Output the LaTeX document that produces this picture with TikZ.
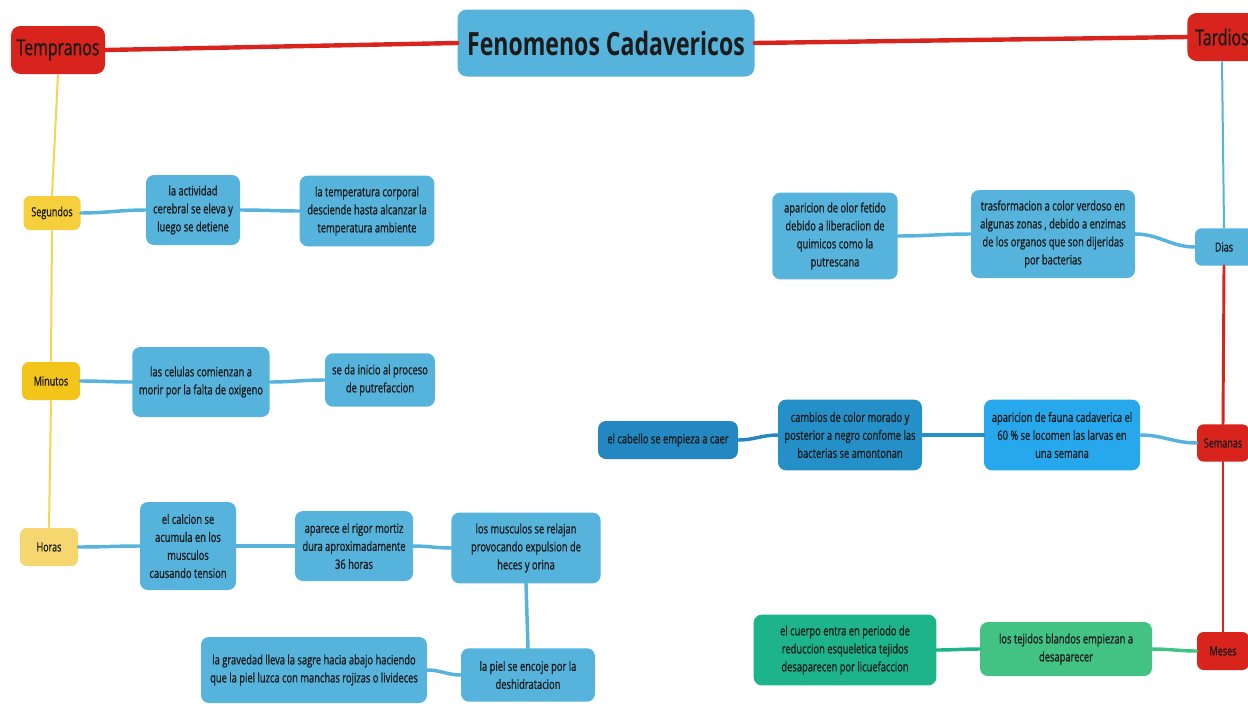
\documentclass[tikz,border=0pt]{standalone}
\usepackage{fontspec}
\setmainfont{Open Sans}[FakeStretch=0.72, UprightFeatures={FakeBold=0.9}]
\definecolor{boxblue}{HTML}{55B3DC}
\definecolor{mapred}{HTML}{D8241D}
\definecolor{ink}{HTML}{1B1B1B}
\definecolor{yelA}{HTML}{F5CF3C}
\definecolor{yelB}{HTML}{F3C41A}
\definecolor{yelC}{HTML}{F6D66E}
\definecolor{yelline}{HTML}{F2D64E}
\definecolor{blueA}{HTML}{27A8EC}
\definecolor{blueB}{HTML}{2590C8}
\definecolor{blueC}{HTML}{2388C2}
\definecolor{greenA}{HTML}{42C283}
\definecolor{greenB}{HTML}{1DB48C}
\tikzset{
  box/.style={fill=boxblue, rounded corners=6pt, align=center, text=ink, inner sep=2pt,
    font=\fontsize{9.75}{13.5}\selectfont},
  head/.style={fill=mapred, rounded corners=7pt, text=ink, font=\fontsize{16.5}{18}\selectfont},
  time/.style={rounded corners=5pt, text=ink, font=\fontsize{9.4}{11}\selectfont},
  link/.style={boxblue, line width=2.6pt, line cap=round},
  trunk/.style={mapred, line width=3.3pt, line cap=round}
}
\begin{document}
\begin{tikzpicture}[x=0.75pt,y=-0.75pt]
  \useasboundingbox (0,0) rectangle (1248,703);
  \fill[white] (0,0) rectangle (1248,703);
  \clip (0,0) rectangle (1248,703);

  \node[fill=boxblue, rounded corners=7pt, text=ink, minimum width=222.75pt, minimum height=50.25pt,
    font=\bfseries\fontsize{24}{26}\selectfont] (title) at (606,43) {Fenomenos Cadavericos};
  \node[head, minimum width=70.5pt, minimum height=36pt] (temp) at (58,50) {Tempranos};
  \node[head, minimum width=52pt, minimum height=36pt, inner sep=1pt] (tard) at (1222,37) {Tardios};

  \node[time, fill=yelA, minimum width=42.75pt, minimum height=25.5pt] (seg) at (52,213) {Segundos};
  \node[time, fill=yelB, minimum width=43.5pt, minimum height=28.5pt] (min) at (51,381) {Minutos};
  \node[time, fill=yelC, minimum width=43.5pt, minimum height=28.5pt] (hor) at (49,547) {Horas};

  \node[box, minimum width=70.5pt, minimum height=52.5pt] (segA) at (193,210)
    {la actividad\\cerebral se eleva y\\luego se detiene};
  \node[box, minimum width=101pt, minimum height=53pt] (segB) at (367,211)
    {la temperatura corporal\\desciende hasta alcanzar la\\temperatura ambiente};
  \node[box, minimum width=103pt, minimum height=52.5pt] (minA) at (201,382)
    {las celulas comienzan a\\morir por la falta de oxigeno};
  \node[box, minimum width=82.5pt, minimum height=40pt] (minB) at (380,380)
    {se da inicio al proceso\\de putrefaccion};
  \node[box, minimum width=72pt, minimum height=66pt] (horA) at (188,546)
    {el calcion se\\acumula en los\\musculos\\causando tension};
  \node[box, minimum width=88.5pt, minimum height=52.5pt] (horB) at (354,546)
    {aparece el rigor mortiz\\dura aproximadamente\\36 horas};
  \node[box, minimum width=112pt, minimum height=53pt] (horC) at (526,548)
    {los musculos se relajan\\provocando expulsion de\\heces y orina};
  \node[box, minimum width=100.5pt, minimum height=40pt] (horD) at (528,675)
    {la piel se encoje por la\\deshidratacion};
  \node[box, minimum width=169.5pt, minimum height=49.5pt] (horE) at (314,670)
    {la gravedad lleva la sagre hacia abajo haciendo\\que la piel luzca con manchas rojizas o livideces};

  \node[time, fill=boxblue, minimum width=43.5pt, minimum height=28pt] (dias) at (1224,247) {Dias};
  \node[box, minimum width=123pt, minimum height=66pt] (diasA) at (1053,234)
    {trasformacion a color verdoso en\\algunas zonas , debido a enzimas\\de los organos que son dijeridas\\por bacterias};
  \node[box, minimum width=94pt, minimum height=65pt] (diasB) at (835,236)
    {aparicion de olor fetido\\debido a liberaciion de\\quimicos como la\\putrescana};

  \node[time, fill=mapred, minimum width=39pt, minimum height=28pt] (sem) at (1223,443) {Semanas};
  \node[box, fill=blueA, minimum width=117pt, minimum height=53pt] (semA) at (1062,435)
    {aparicion de fauna cadaverica el\\60 \% se locomen las larvas en\\una semana};
  \node[box, fill=blueB, minimum width=108pt, minimum height=53pt] (semB) at (850,435)
    {cambios de color morado y\\posterior a negro confome las\\bacterias se amontonan};
  \node[box, fill=blueC, minimum width=105pt, minimum height=28.5pt] (semC) at (668,440)
    {el cabello se empieza a caer};

  \node[time, fill=mapred, minimum width=39pt, minimum height=28.5pt] (mes) at (1223,651) {Meses};
  \node[box, fill=greenA, minimum width=129pt, minimum height=40.5pt] (mesA) at (1066,649)
    {los tejidos blandos empiezan a\\desaparecer};
  \node[box, fill=greenB, minimum width=137pt, minimum height=53pt] (mesB) at (845,650)
    {el cuerpo entra en periodo de\\reduccion esqueletica tejidos\\desaparecen por licuefaccion};

  \draw[trunk] (temp.east) -- (title.west);
  \draw[trunk] (title.east) -- (tard.west);
  \draw[yelline, line width=1.5pt] (temp.south) -- (seg.north);
  \draw[yelline, line width=1.5pt] (seg.south) -- (min.north);
  \draw[yelline, line width=1.5pt] (min.south) -- (hor.north);

  \draw[link] (seg.east) to[out=0,in=180] (segA.west);
  \draw[link] (segA.east) to[out=0,in=180] (segB.west);
  \draw[link] (min.east) to[out=0,in=180] (minA.west);
  \draw[link] (minA.east) to[out=0,in=180] (minB.west);
  \draw[link] (hor.east) to[out=0,in=180] (horA.west);
  \draw[link] (horA.east) to[out=0,in=180] (horB.west);
  \draw[link] (horB.east) to[out=0,in=180] (horC.west);
  \draw[link] (horC.south) -- (horD.north);
  \draw[link] (horD.west) to[out=180,in=0] (horE.east);

  \draw[boxblue, line width=1.5pt] (tard.south) -- (dias.north);
  \draw[link] (dias.west) to[out=180,in=0] (diasA.east);
  \draw[link] (diasA.west) to[out=180,in=0] (diasB.east);
  \draw[trunk, line width=2.2pt] (dias.south) -- (sem.north);
  \draw[link] (sem.west) to[out=180,in=0] (semA.east);
  \draw[link, blueB] (semA.west) to[out=180,in=0] (semB.east);
  \draw[link, blueC] (semB.west) to[out=180,in=0] (semC.east);
  \draw[trunk, line width=2.2pt] (sem.south) -- (mes.north);
  \draw[link, greenA] (mes.west) to[out=180,in=0] (mesA.east);
  \draw[link, greenB] (mesA.west) to[out=180,in=0] (mesB.east);
\end{tikzpicture}
\end{document}
